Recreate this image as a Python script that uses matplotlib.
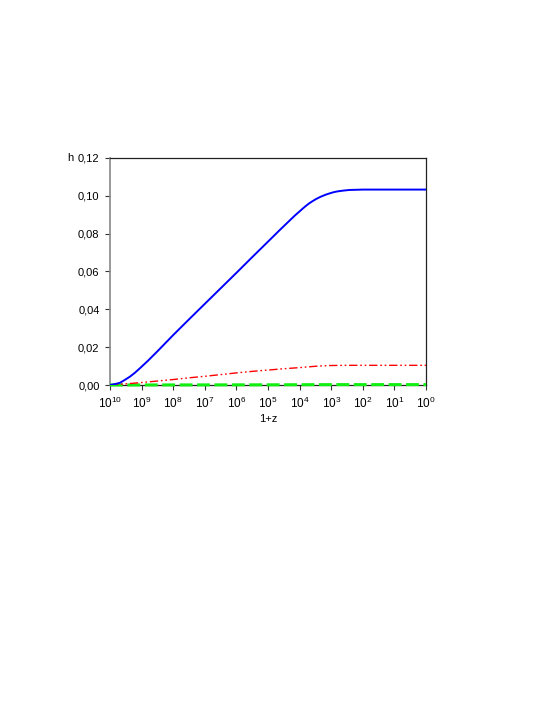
import numpy as np
import matplotlib
matplotlib.use('Agg')
import matplotlib.pyplot as plt
from matplotlib.ticker import FixedLocator, FuncFormatter, NullLocator

plt.rcParams['font.family'] = ['Liberation Sans', 'DejaVu Sans']
plt.rcParams['mathtext.fontset'] = 'custom'
plt.rcParams['mathtext.rm'] = 'Liberation Sans'

# log10(1+z) sample points
logz_blue = [10, 9.84, 9.68, 9.53, 9.37, 9.21, 9.05, 8.8, 8.5, 8.0, 7.5, 7.0, 6.5,
             6.0, 5.5, 5.0, 4.63, 4.3, 4.15, 4.0, 3.9, 3.8, 3.7, 3.58, 3.47, 3.35,
             3.25, 3.16, 3.05, 2.95, 2.85, 2.74, 2.6, 2.42, 2.2, 2.0, 0]
h_blue = [0.0, 0.0005, 0.0012, 0.0027, 0.0044, 0.0065, 0.0089, 0.0128, 0.0178,
          0.0264, 0.0347, 0.0429, 0.0511, 0.0593, 0.0676, 0.0758, 0.0819, 0.0872,
          0.0896, 0.0918, 0.0933, 0.0947, 0.0960, 0.0973, 0.0984, 0.0994, 0.1001,
          0.1007, 0.1013, 0.1018, 0.1022, 0.1025, 0.1028, 0.1031, 0.1032, 0.1033,
          0.1033]

logz_red = [10, 9.5, 9.0, 8.5, 8.0, 7.5, 7.0, 6.5, 6.0, 5.5, 5.0, 4.5, 4.0, 3.5,
            3.05, 2.5, 2.0, 0]
h_red = [0.0, 0.0006, 0.0013, 0.0021, 0.0029, 0.0038, 0.0046, 0.0055, 0.0064,
         0.0072, 0.0079, 0.0086, 0.0092, 0.0099, 0.0103, 0.0104, 0.0104, 0.0104]

logz_green = [10, 5, 3, 0]
h_green = [0.0, 0.0001, 0.0002, 0.0002]

yticks = [0.0, 0.02, 0.04, 0.06, 0.08, 0.10, 0.12]
xdecades = list(range(10, -1, -1))

fig = plt.figure(figsize=(5.45, 7.05), dpi=100)
ax = fig.add_axes([0.2018, 0.4539, 0.58, 0.322])

ax.plot(10.0 ** np.array(logz_green), h_green, color='#11ee11', lw=2.2,
        dashes=(4.2, 1.5), zorder=3.5, clip_on=False)
ax.plot(10.0 ** np.array(logz_red), h_red, color='red', lw=1.0,
        dashes=(6, 2, 1.2, 2, 1.2, 2), zorder=3.6)
ax.plot(10.0 ** np.array(logz_blue), h_blue, color='#0000ff', lw=1.4, zorder=4)

ax.set_xscale('log')
ax.set_xlim(1e10, 1)
ax.set_ylim(0, 0.12)
ax.xaxis.set_major_locator(FixedLocator([10.0 ** d for d in xdecades]))
ax.xaxis.set_minor_locator(NullLocator())
ax.xaxis.set_major_formatter(FuncFormatter(
    lambda v, p: r'$\mathregular{10^{%d}}$' % round(np.log10(v))))
ax.set_yticks(yticks)
ax.yaxis.set_major_formatter(FuncFormatter(lambda v, p: ('%.2f' % v).replace('.', ',')))

ax.tick_params(axis='both', length=3.5, width=0.8, color='#333333')
ax.tick_params(axis='x', labelsize=8.5, pad=4)
ax.tick_params(axis='y', labelsize=8, pad=4)
for s in ['top', 'right', 'bottom']:
    ax.spines[s].set_color('#222222')
    ax.spines[s].set_linewidth(0.9)
ax.spines['left'].set_color('#888888')
ax.spines['left'].set_linewidth(1.2)

fig.text(70 / 545, 1 - 158 / 705, 'h', fontsize=8, ha='center', va='center')
fig.text(268 / 545, 1 - 419 / 705, '1+z', fontsize=8, ha='center', va='center')

fig.savefig('out.png', dpi=100)
